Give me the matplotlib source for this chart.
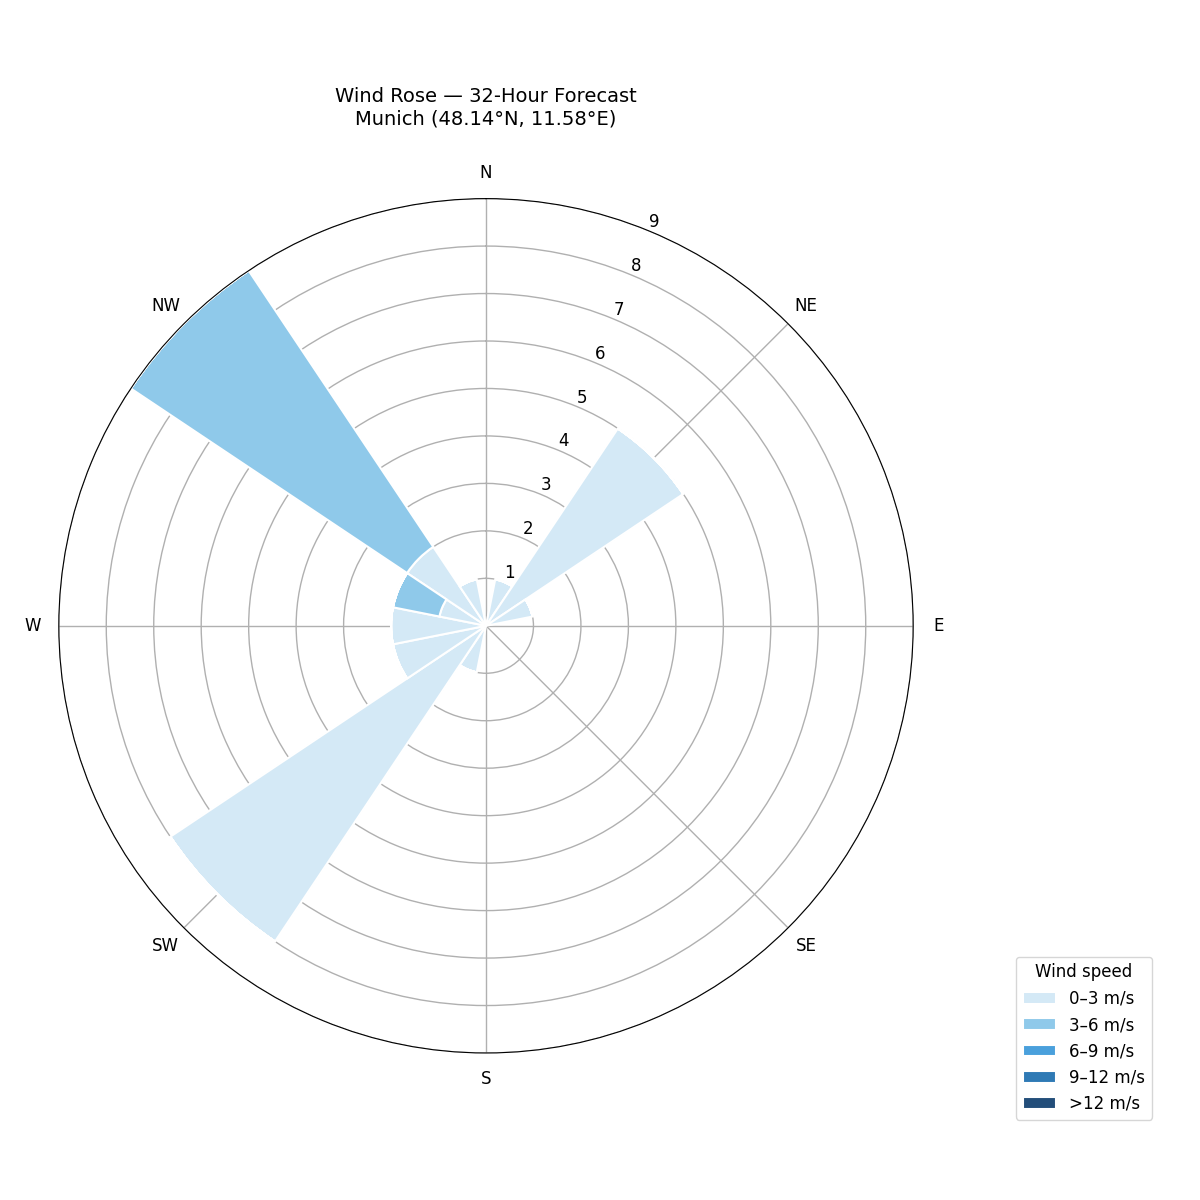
import numpy as np
import matplotlib
matplotlib.use("Agg")
import matplotlib.pyplot as plt

directions = ["N","NNE","NE","ENE","E","ESE","SE","SSE","S","SSW","SW","WSW","W","WNW","NW","NNW"]
bins = ["0–3 m/s","3–6 m/s","6–9 m/s","9–12 m/s",">12 m/s"]
colors = ["#d4e9f6","#8fc9ea","#4aa0dc","#2f7ab5","#234e7a"]
s0_3 = [0,1,5,1,0,0,0,0,0,1,8,2,2,1,2,1]
s3_6 = [0,0,0,0,0,0,0,0,0,0,0,0,0,1,7,0]
s6_9 = [0]*16
s9_12 = [0]*16
s12 = [0]*16
series = [s0_3, s3_6, s6_9, s9_12, s12]

fig = plt.figure(figsize=(12,12), dpi=100)
ax = fig.add_axes([0.049,0.1225,0.712,0.712], projection="polar")
ax.set_theta_zero_location("N")
ax.set_theta_direction(-1)
theta = np.deg2rad(np.arange(16)*22.5)
width = np.deg2rad(22.5)
bottom = np.zeros(16)
for vals, c, lab in zip(series, colors, bins):
    v = np.array(vals, float)
    ax.bar(theta, v, width=width, bottom=bottom, color=c, edgecolor="white", linewidth=1.5, label=lab, zorder=2)
    bottom += v
ax.set_ylim(0, 9)
ax.set_yticks(range(1,10))
ax.set_rlabel_position(22.5)
ax.set_xticks(np.deg2rad(np.arange(8)*45))
ax.set_xticklabels(["N","NE","E","SE","S","SW","W","NW"])
ax.tick_params(labelsize=12, pad=8)
ax.grid(color="#b0b0b0", linewidth=1)
ax.set_axisbelow(True)
fig.text(0.405, 0.91, "Wind Rose — 32-Hour Forecast\nMunich (48.14°N, 11.58°E)", ha="center", va="center", fontsize=14, linespacing=1.2)
ax.legend(title="Wind speed", loc="lower right", bbox_to_anchor=(0.967, 0.06), bbox_transform=fig.transFigure, fontsize=12, title_fontsize=12)
fig.savefig("out.png", dpi=100)
